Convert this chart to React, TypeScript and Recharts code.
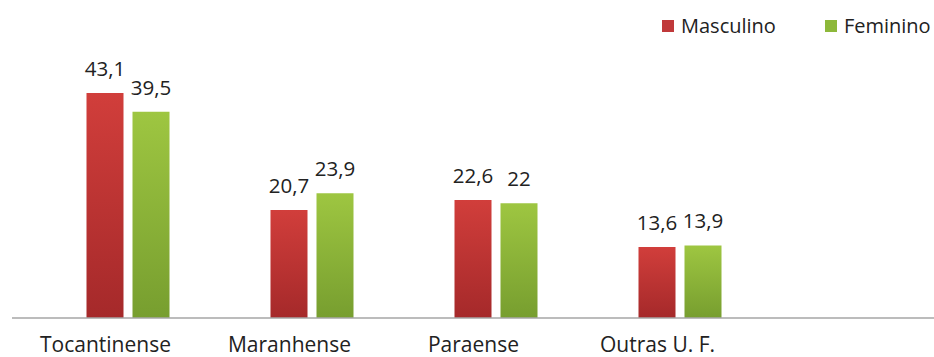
import { BarChart, Bar, XAxis, YAxis, LabelList, Legend } from "recharts";

const categories = ["Tocantinense", "Maranhense", "Paraense", "Outras U. F."];
const masculino = [43.1, 20.7, 22.6, 13.6];
const feminino = [39.5, 23.9, 22, 13.9];

const SERIES = [
  { key: "masculino", name: "Masculino", fill: "url(#gradMasc)", swatch: "#c0393a" },
  { key: "feminino", name: "Feminino", fill: "url(#gradFem)", swatch: "#8db83a" },
];

const data = categories.map((c, i) => ({
  categoria: c,
  masculino: masculino[i],
  feminino: feminino[i],
}));

const FONT = "'Open Sans', 'Noto Sans', sans-serif";

// valores com vírgula decimal (pt-BR)
const fmt = (v: number) => String(v).replace(".", ",");

function CategoryTick(props: any) {
  const { x, y, payload } = props;
  return (
    <text x={x - 22} y={y + 34} textAnchor="middle" fill="#222" fontSize={21} fontFamily={FONT}>
      {payload.value}
    </text>
  );
}

function LegendContent() {
  return (
    <div style={{ display: "flex", fontFamily: FONT, fontSize: 20, color: "#222" }}>
      {SERIES.map((s, i) => (
        <div key={s.key} style={{ display: "flex", alignItems: "center", marginLeft: i ? 49 : 0 }}>
          <span style={{ width: 12, height: 12, background: s.swatch, marginRight: 7, display: "inline-block" }} />
          <span>{s.name}</span>
        </div>
      ))}
    </div>
  );
}

export default function App() {
  return (
    <div style={{ position: "absolute", left: 0, top: 0, background: "#fff" }}>
      <BarChart width={934} height={357} data={data} barSize={37} barGap={9}
        margin={{ top: 57, right: 0, bottom: 9, left: 12 }}>
        <defs>
          <linearGradient id="gradMasc" x1="0" y1="0" x2="0" y2="1">
            <stop offset="0%" stopColor="#d13e3b" />
            <stop offset="100%" stopColor="#a5292a" />
          </linearGradient>
          <linearGradient id="gradFem" x1="0" y1="0" x2="0" y2="1">
            <stop offset="0%" stopColor="#9ec641" />
            <stop offset="100%" stopColor="#779e2f" />
          </linearGradient>
        </defs>
        <XAxis dataKey="categoria" height={30} tick={<CategoryTick />} tickLine={false} tickSize={0} tickMargin={0}
          axisLine={{ stroke: "#a6a6a6", strokeWidth: 1.5 }} padding={{ left: 23.5, right: 162.5 }} interval={0} />
        <YAxis hide domain={[0, 50]} />
        <Legend verticalAlign="middle" align="center" content={<LegendContent />}
          wrapperStyle={{ top: 12, left: 662, width: "auto" }} />
        {SERIES.map((s) => (
          <Bar key={s.key} dataKey={s.key} name={s.name} fill={s.fill} isAnimationActive={false}>
            <LabelList dataKey={s.key} position="top" offset={17} formatter={(v: any) => fmt(v)}
              fill="#222" fontSize={20.5} fontFamily={FONT} />
          </Bar>
        ))}
      </BarChart>
    </div>
  );
}
